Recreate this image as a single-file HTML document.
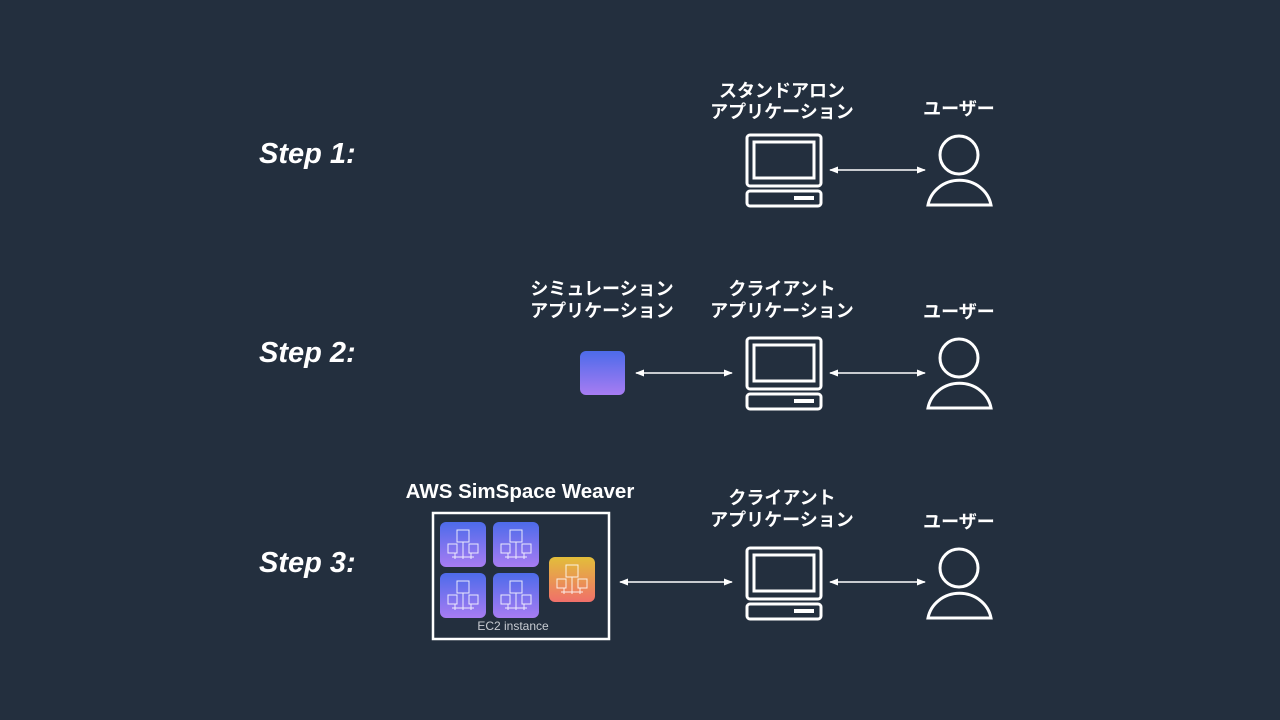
<!DOCTYPE html><html><head><meta charset="utf-8"><style>body{margin:0;background:#232f3e;}svg{display:block}text{font-family:"Liberation Sans","Noto Sans CJK JP",sans-serif;fill:#fff}</style></head><body>
<svg width="1280" height="720" viewBox="0 0 1280 720">
<defs>
<linearGradient id="bp" x1="0" y1="0" x2="0" y2="1"><stop offset="0" stop-color="#4d6bea"/><stop offset="1" stop-color="#a77cf2"/></linearGradient>
<linearGradient id="oy" x1="0" y1="0" x2="0" y2="1"><stop offset="0" stop-color="#e2be3a"/><stop offset="1" stop-color="#f0706a"/></linearGradient>
<marker id="ah" viewBox="0 0 10 10" refX="9" refY="5" markerWidth="6" markerHeight="6" orient="auto-start-reverse"><path d="M0,1L10,5L0,9z" fill="#fff"/></marker>
<g id="pc" fill="none" stroke="#fff" stroke-width="3"><rect x="747" y="135" width="74" height="51" rx="3"/><rect x="754" y="142" width="60" height="36"/><rect x="747" y="191" width="74" height="15" rx="3"/><rect x="794" y="196" width="20" height="4" fill="#fff" stroke="none"/></g>
<g id="us" fill="none" stroke="#fff" stroke-width="3"><circle cx="959" cy="155" r="19"/><path d="M928,205 A32,30 0 0 1 991,205 Z"/></g>
<g id="ic"><rect width="46" height="45" rx="6" fill="url(#bp)"/><g fill="none" stroke="#fff" stroke-width="1" opacity=".85"><rect x="17" y="8" width="12" height="12"/><rect x="8" y="22" width="9" height="9"/><rect x="29" y="22" width="9" height="9"/><path d="M12,35h22M15,31v6M31,31v6M23,20v17"/></g></g>
</defs>
<g font-weight="bold" font-style="italic" font-size="29"><text x="259" y="163">Step 1:</text><text x="259" y="362">Step 2:</text><text x="259" y="572">Step 3:</text></g>
<g font-weight="bold" font-size="18" text-anchor="middle">
<text x="782" y="97">スタンドアロン</text><text x="782" y="118">アプリケーション</text><text x="959" y="115">ユーザー</text>
<text x="602" y="295">シミュレーション</text><text x="602" y="317">アプリケーション</text>
<text x="782" y="295">クライアント</text><text x="782" y="317">アプリケーション</text><text x="959" y="318">ユーザー</text>
<text x="520" y="498" font-size="20.5">AWS SimSpace Weaver</text>
<text x="782" y="504">クライアント</text><text x="782" y="526">アプリケーション</text><text x="959" y="528">ユーザー</text>
</g>
<use href="#pc"/><use href="#us"/>
<use href="#pc" y="203"/><use href="#us" y="203"/>
<use href="#pc" y="413"/><use href="#us" y="413"/>
<g stroke="#fff" stroke-width="1.5" marker-start="url(#ah)" marker-end="url(#ah)">
<line x1="830" y1="170" x2="925" y2="170"/><line x1="830" y1="373" x2="925" y2="373"/><line x1="830" y1="582" x2="925" y2="582"/>
<line x1="636" y1="373" x2="732" y2="373"/><line x1="620" y1="582" x2="732" y2="582"/>
</g>
<rect x="580" y="351" width="45" height="44" rx="6" fill="url(#bp)"/>
<rect x="433" y="513" width="176" height="126" fill="none" stroke="#fff" stroke-width="2.5"/>
<use href="#ic" x="440" y="522"/><use href="#ic" x="493" y="522"/><use href="#ic" x="440" y="573"/><use href="#ic" x="493" y="573"/>
<g transform="translate(549,557)"><rect width="46" height="45" rx="6" fill="url(#oy)"/><g fill="none" stroke="#fff" stroke-width="1" opacity=".85"><rect x="17" y="8" width="12" height="12"/><rect x="8" y="22" width="9" height="9"/><rect x="29" y="22" width="9" height="9"/><path d="M12,35h22M15,31v6M31,31v6M23,20v17"/></g></g>
<text x="513" y="630" font-size="12" text-anchor="middle" style="fill:#c8ccd2">EC2 instance</text>
</svg></body></html>
